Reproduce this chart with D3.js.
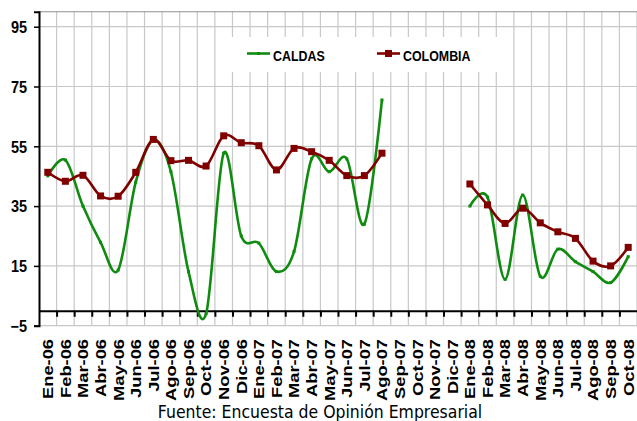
<!DOCTYPE html>
<html>
<head>
<meta charset="utf-8">
<script src="https://cdn.jsdelivr.net/npm/d3@7"></script>
<style>
  body { margin: 0; background: #fff; }
  svg { display: block; }
</style>
</head>
<body>
<svg id="chart"></svg>
<script>
let months = ['Ene-06','Feb-06','Mar-06','Abr-06','May-06','Jun-06','Jul-06','Ago-06','Sep-06','Oct-06','Nov-06','Dic-06',
              'Ene-07','Feb-07','Mar-07','Abr-07','May-07','Jun-07','Jul-07','Ago-07','Sep-07','Oct-07','Nov-07','Dic-07',
              'Ene-08','Feb-08','Mar-08','Abr-08','May-08','Jun-08','Jul-08','Ago-08','Sep-08','Oct-08'];
let caldas = [45.1, 50.4, 35, 22.9, 13.6, 43, 57, 46.5, 13.1, -1, 52.7, 25,
              22.6, 13.1, 19.8, 50.8, 46.5, 50.8, 29, 70.5, null, null, null, null,
              35, 38, 10.5, 38.7, 11.5, 20.6, 16.4, 13.1, 9.4, 18.1];
let colombia = [46.3, 43.3, 45.3, 38.4, 38.3, 46.3, 57.3, 50.2, 50.3, 48.4, 58.5, 56.2,
                55.2, 47.1, 54.3, 53.2, 50.3, 45.2, 45.2, 52.7, null, null, null, null,
                42.4, 35.4, 29.2, 34.3, 29.4, 26.4, 24.2, 16.6, 15, 21.2];
let yTicks = [-5, 15, 35, 55, 75, 95];
let seriesNames = ['CALDAS', 'COLOMBIA'];
let source = 'Fuente: Encuesta de Opinión Empresarial';

let width = 637;
let height = 421;
let plotLeft = 39, plotRight = 637, plotTop = 11.75, plotBottom = 325.7;
let green = '#0f8c0f';
let red = '#800000';
let font = '"Liberation Sans", Arial, sans-serif';

let svg = d3.select('#chart')
            .attr('width', width)
            .attr('height', height);

let xScale = d3.scaleBand()
               .domain(months)
               .range([plotLeft, plotRight]);
let xIdx = d3.scaleLinear()
             .domain([0, months.length])
             .range([plotLeft, plotRight]);
let yScale = d3.scaleLinear()
               .domain([-5, 100])
               .range([plotBottom, plotTop]);

// grid
svg.append('g')
    .selectAll('line')
    .data(d3.range(1, months.length + 1))
    .enter()
    .append('line')
    .attr('x1', d => xIdx(d)).attr('x2', d => xIdx(d))
    .attr('y1', plotTop).attr('y2', plotBottom)
    .attr('stroke', '#c8c8c8')
    .attr('stroke-width', 1.2);

svg.append('g')
    .selectAll('line')
    .data(yTicks)
    .enter()
    .append('line')
    .attr('x1', plotLeft).attr('x2', plotRight)
    .attr('y1', d => yScale(d)).attr('y2', d => yScale(d))
    .attr('stroke', '#c8c8c8')
    .attr('stroke-width', 1.2);

svg.append('line')
    .attr('x1', plotLeft).attr('x2', plotRight)
    .attr('y1', plotTop).attr('y2', plotTop)
    .attr('stroke', '#909090')
    .attr('stroke-width', 1);

// legend box
svg.append('rect')
    .attr('x', 222).attr('y', 37)
    .attr('width', 283).attr('height', 35)
    .attr('fill', '#fff');

// y axis
let yAxis = d3.axisLeft(yScale)
              .tickValues(yTicks)
              .tickSize(5)
              .tickPadding(8)
              .tickFormat(d3.format('d'));
let gy = svg.append('g')
    .attr('transform', `translate(${plotLeft},0)`)
    .call(yAxis);
gy.select('.domain').attr('stroke', '#000').attr('stroke-width', 2);
gy.selectAll('.tick line').attr('stroke', '#000').attr('stroke-width', 1.5);
gy.selectAll('.tick text')
    .attr('font-family', font)
    .attr('font-weight', 'bold')
    .attr('font-size', 14.5)
    .attr('fill', '#000')
    .attr('dy', null)
    .attr('x', null)
    .attr('transform', 'translate(-12,0) scale(1,1.12)')
    .attr('dominant-baseline', 'central');

// x axis on the zero line, ticks between months
let xAxis = d3.axisBottom(xIdx)
              .tickValues(d3.range(1, months.length))
              .tickSize(6)
              .tickSizeOuter(0)
              .tickFormat('');
let gx = svg.append('g')
    .attr('transform', `translate(0,${yScale(0)})`)
    .call(xAxis);
gx.select('.domain').attr('stroke', '#000').attr('stroke-width', 2);
gx.selectAll('.tick line').attr('stroke', '#000').attr('stroke-width', 2);

svg.append('g')
    .selectAll('text')
    .data(months)
    .enter()
    .append('text')
    .attr('transform', d => `translate(${xScale(d) + xScale.bandwidth() / 2},339) scale(1,1.22) rotate(-90)`)
    .attr('text-anchor', 'end')
    .attr('dy', '0.36em')
    .attr('font-family', font)
    .attr('font-weight', 'bold')
    .attr('font-size', 15)
    .text(d => d);

// series
let line = d3.line()
             .defined(d => d[1] !== null)
             .x(d => xScale(d[0]) + xScale.bandwidth() / 2)
             .y(d => yScale(d[1]))
             .curve(d3.curveCatmullRom.alpha(0));

let caldasPts = months.map((m, i) => [m, caldas[i]]);
let colombiaPts = months.map((m, i) => [m, colombia[i]]);

svg.append('path')
    .datum(caldasPts)
    .attr('d', line)
    .attr('fill', 'none')
    .attr('stroke', green)
    .attr('stroke-width', 2.6);

svg.append('g')
    .selectAll('rect')
    .data(caldasPts.filter(d => d[1] !== null))
    .enter()
    .append('rect')
    .attr('x', d => xScale(d[0]) + xScale.bandwidth() / 2 - 1.5)
    .attr('y', d => yScale(d[1]) - 1.5)
    .attr('width', 3).attr('height', 3)
    .attr('fill', green);

svg.append('path')
    .datum(colombiaPts)
    .attr('d', line)
    .attr('fill', 'none')
    .attr('stroke', red)
    .attr('stroke-width', 2.6);

svg.append('g')
    .selectAll('rect')
    .data(colombiaPts.filter(d => d[1] !== null))
    .enter()
    .append('rect')
    .attr('x', d => xScale(d[0]) + xScale.bandwidth() / 2 - 3.5)
    .attr('y', d => yScale(d[1]) - 3.5)
    .attr('width', 7).attr('height', 7)
    .attr('fill', red);

// legend
let legend = svg.append('g');
let legendItems = [
  {name: seriesNames[0], x: 247, color: green, marker: 3},
  {name: seriesNames[1], x: 377, color: red, marker: 7}
];
legendItems.forEach(it => {
  legend.append('line')
      .attr('x1', it.x).attr('x2', it.x + 23)
      .attr('y1', 53.5).attr('y2', 53.5)
      .attr('stroke', it.color)
      .attr('stroke-width', 2.6);
  legend.append('rect')
      .attr('x', it.x + 11.5 - it.marker / 2)
      .attr('y', 53.5 - it.marker / 2)
      .attr('width', it.marker).attr('height', it.marker)
      .attr('fill', it.color);
  legend.append('text')
      .attr('transform', `translate(${it.x + 26},60.5) scale(1,1.15)`)
      .attr('font-family', font)
      .attr('font-weight', 'bold')
      .attr('font-size', 12.4)
      .text(it.name);
});

svg.append('text')
    .attr('transform', 'translate(320,418) scale(1,1.15)')
    .attr('text-anchor', 'middle')
    .attr('font-family', '"DejaVu Sans", Verdana, sans-serif')
    .attr('font-size', 15.7)
    .text(source);
</script>
</body>
</html>
